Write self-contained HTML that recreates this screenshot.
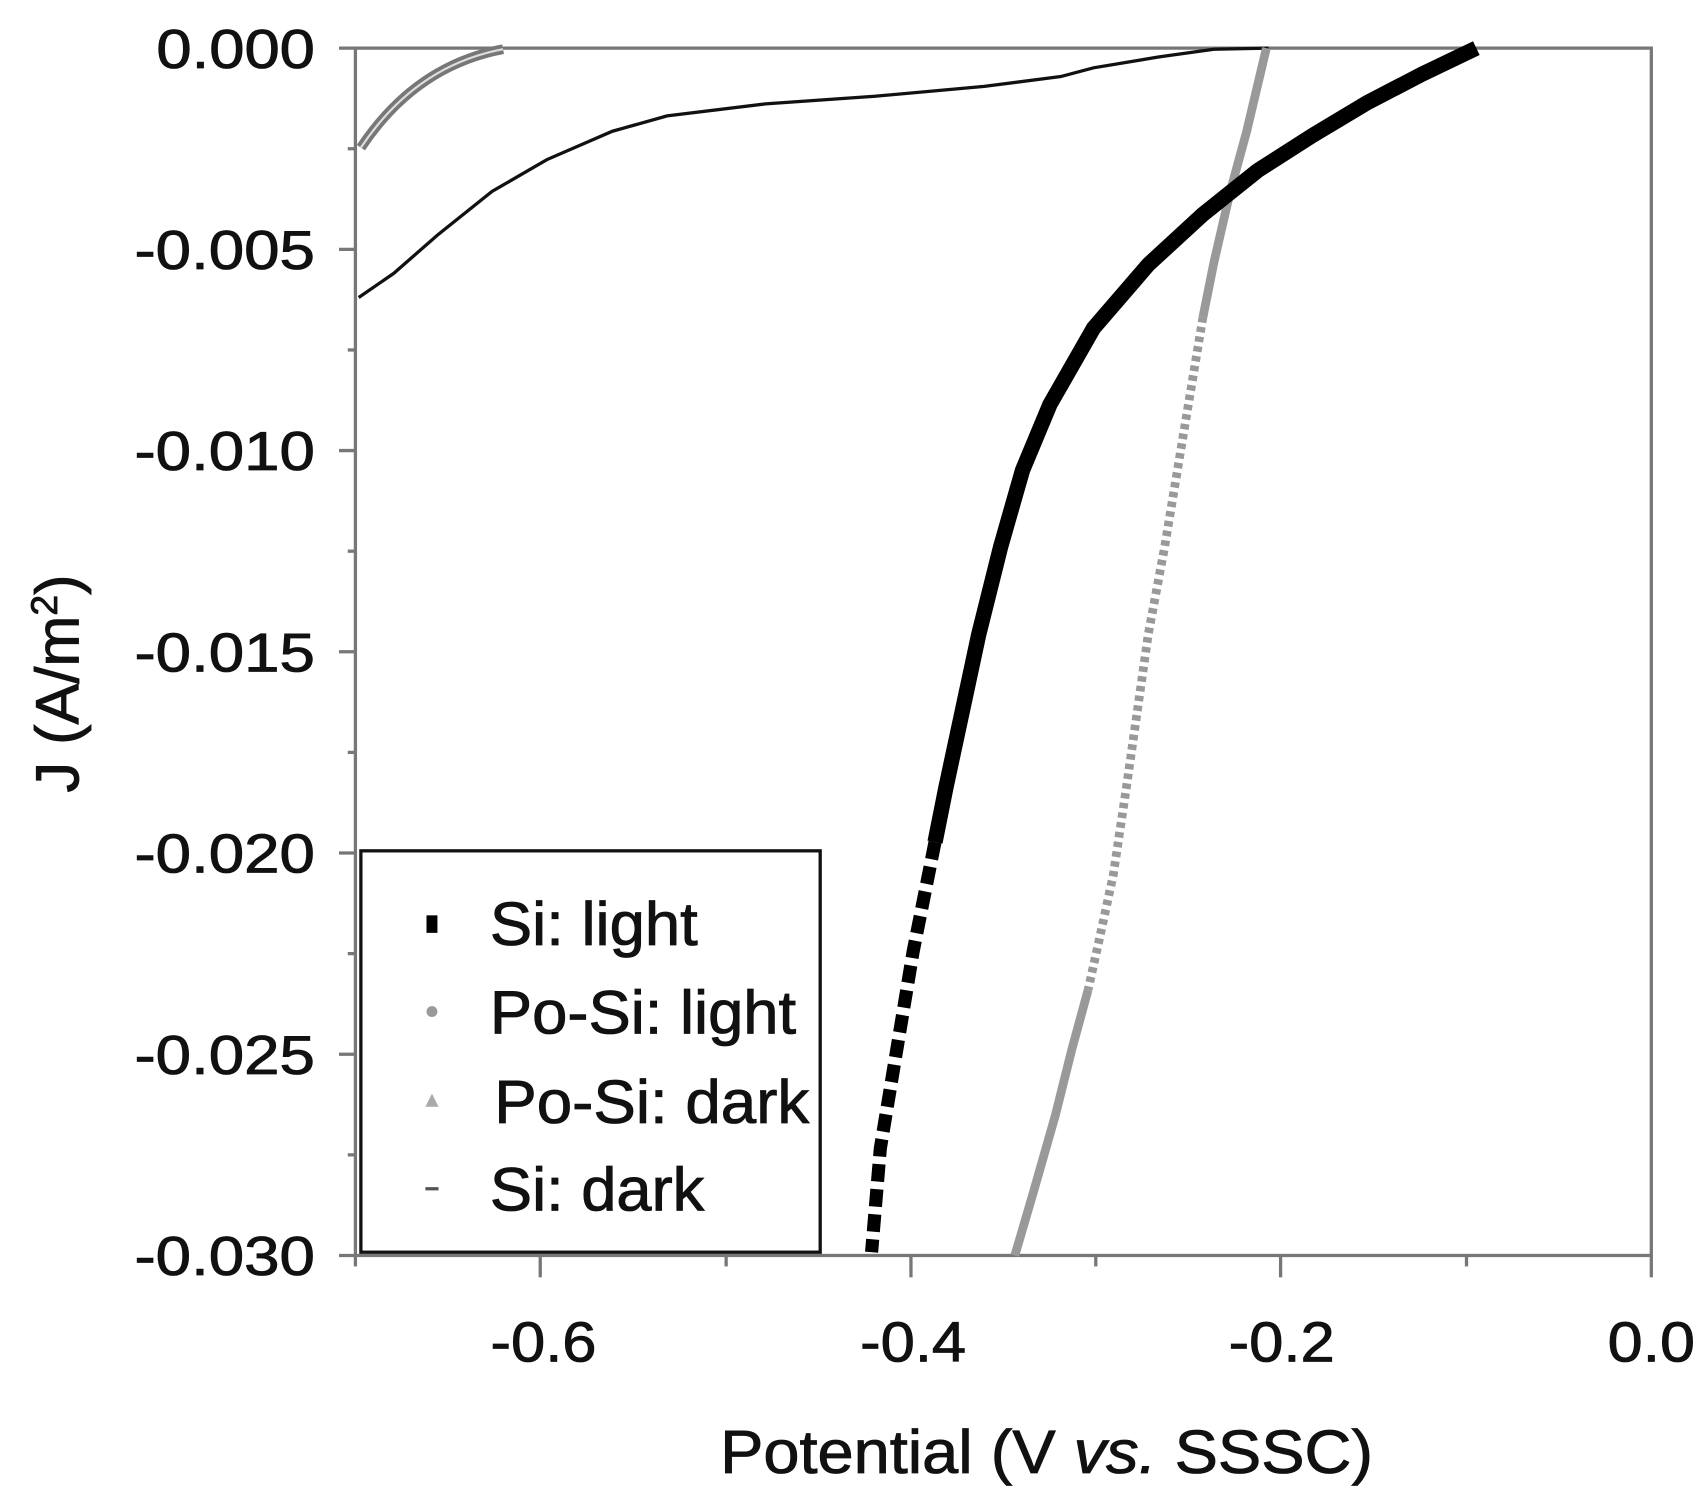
<!DOCTYPE html>
<html><head><style>html,body{margin:0;padding:0;background:#fff}svg{display:block}</style></head>
<body>
<svg width="1706" height="1507" viewBox="0 0 1560 1378" preserveAspectRatio="none" xmlns="http://www.w3.org/2000/svg" font-family="Liberation Sans, Arial, sans-serif">
<rect width="1560" height="1378" fill="#fff"/>
<rect x="325" y="44" width="1185" height="1104" fill="none" stroke="#777" stroke-width="3"/>
<g stroke="#777" stroke-width="3">
<line x1="310" y1="44" x2="325" y2="44"/><line x1="310" y1="228" x2="325" y2="228"/><line x1="310" y1="412" x2="325" y2="412"/><line x1="310" y1="596" x2="325" y2="596"/><line x1="310" y1="780" x2="325" y2="780"/><line x1="310" y1="964" x2="325" y2="964"/><line x1="310" y1="1148" x2="325" y2="1148"/>
<line x1="318" y1="136" x2="325" y2="136"/><line x1="318" y1="320" x2="325" y2="320"/><line x1="318" y1="504" x2="325" y2="504"/><line x1="318" y1="688" x2="325" y2="688"/><line x1="318" y1="872" x2="325" y2="872"/><line x1="318" y1="1056" x2="325" y2="1056"/>
<line x1="325" y1="1148" x2="325" y2="1158"/><line x1="494" y1="1148" x2="494" y2="1168"/><line x1="664" y1="1148" x2="664" y2="1158"/><line x1="833" y1="1148" x2="833" y2="1168"/><line x1="1002" y1="1148" x2="1002" y2="1158"/><line x1="1171" y1="1148" x2="1171" y2="1168"/><line x1="1341" y1="1148" x2="1341" y2="1158"/><line x1="1510" y1="1148" x2="1510" y2="1168"/>
</g>
<g font-size="50" fill="#111" text-anchor="end" stroke="#111" stroke-width="0.8">
<text x="288" y="62" textLength="145" lengthAdjust="spacingAndGlyphs">0.000</text><text x="288" y="246" textLength="165" lengthAdjust="spacingAndGlyphs">-0.005</text><text x="288" y="430" textLength="165" lengthAdjust="spacingAndGlyphs">-0.010</text><text x="288" y="614" textLength="165" lengthAdjust="spacingAndGlyphs">-0.015</text><text x="288" y="798" textLength="165" lengthAdjust="spacingAndGlyphs">-0.020</text><text x="288" y="982" textLength="165" lengthAdjust="spacingAndGlyphs">-0.025</text><text x="288" y="1166" textLength="165" lengthAdjust="spacingAndGlyphs">-0.030</text>
</g>
<g font-size="52" fill="#111" text-anchor="middle" stroke="#111" stroke-width="0.8">
<text x="497" y="1245" textLength="97" lengthAdjust="spacingAndGlyphs">-0.6</text><text x="835" y="1245" textLength="97" lengthAdjust="spacingAndGlyphs">-0.4</text><text x="1172" y="1245" textLength="97" lengthAdjust="spacingAndGlyphs">-0.2</text><text x="1510" y="1245" textLength="80" lengthAdjust="spacingAndGlyphs">0.0</text>
<text x="957" y="1347" font-size="56" textLength="597" lengthAdjust="spacingAndGlyphs">Potential (V <tspan font-style="italic">vs.</tspan> SSSC)</text>
</g>
<text transform="translate(72,625) rotate(-90)" font-size="56" fill="#111" stroke="#111" stroke-width="0.8" text-anchor="middle">J (A/m<tspan font-size="34" dy="-20">2</tspan><tspan dy="20">)</tspan></text>
<path d="M328,272 L360,250 L400,215 L450,175 L500,146 L560,120 L610,106 L700,95 L800,88 L900,79 L970,70 L1000,62 L1060,52 L1110,45 L1160,44" fill="none" stroke="#111" stroke-width="3"/>
<path d="M330,135 Q380,60 460,45" fill="none" stroke="#777" stroke-width="9"/>
<path d="M330,135 Q380,60 460,45" fill="none" stroke="#ddd" stroke-width="2"/>
<path d="M1158,44 L1140,120 L1125,175 L1110,240 L1100,290" fill="none" stroke="#999" stroke-width="8"/>
<path d="M1100,290 L1095,320 L1080,410 L1065,500 L1050,580 L1040,650 L1030,720 L1018,800 L1005,860 L995,905" fill="none" stroke="#999" stroke-width="8" stroke-dasharray="5 4"/>
<path d="M995,905 L980,960 L965,1020 L945,1090 L928,1148" fill="none" stroke="#999" stroke-width="8"/>
<path d="M1350,44 L1300,68 L1250,94 L1200,124 L1150,156 L1100,196 L1050,242 L1000,300 L960,370 L935,430 L915,500 L895,580 L880,650 L865,720 L855,770" fill="none" stroke="#000" stroke-width="14"/>
<path d="M855,770 L850,795 L835,870 L820,960 L805,1050 L797,1145" fill="none" stroke="#000" stroke-width="12" stroke-dasharray="16 7"/>
<rect x="330" y="778" width="420" height="367" fill="#fff" stroke="#111" stroke-width="3"/>
<rect x="390" y="837" width="10" height="16" fill="#000"/>
<circle cx="395" cy="925" r="5" fill="#999"/>
<path d="M389,1012 L395,1000 L401,1012 Z" fill="#aaa"/>
<line x1="389" y1="1087" x2="401" y2="1087" stroke="#555" stroke-width="3"/>
<g font-size="56" fill="#111" stroke="#111" stroke-width="0.8">
<text x="448" y="864" textLength="190" lengthAdjust="spacingAndGlyphs">Si: light</text><text x="448" y="945" textLength="280" lengthAdjust="spacingAndGlyphs">Po-Si: light</text><text x="452" y="1027" textLength="288" lengthAdjust="spacingAndGlyphs">Po-Si: dark</text><text x="448" y="1107" textLength="196" lengthAdjust="spacingAndGlyphs">Si: dark</text>
</g>
</svg>
</body></html>
